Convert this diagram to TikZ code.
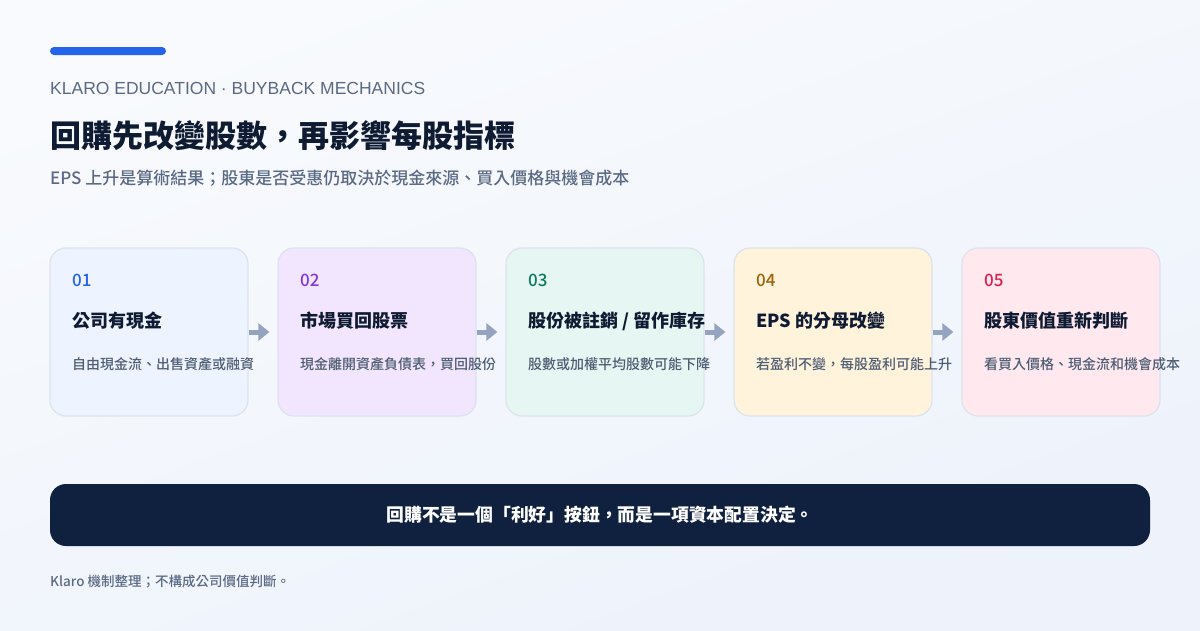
\documentclass[tikz,border=0pt]{standalone}
\usepackage{fontspec}
\setmainfont{Noto Sans CJK TC}
\newfontfamily\mediumfont{Noto Sans CJK TC Medium}
\newfontfamily\latinfont{Liberation Sans}
\usetikzlibrary{arrows.meta}

\definecolor{bgtop}{HTML}{F8FAFD}
\definecolor{bgbot}{HTML}{EDF2FB}
\definecolor{accent}{HTML}{2563EB}
\definecolor{ink}{HTML}{0F1B33}
\definecolor{slate}{HTML}{5A6A84}
\definecolor{muted}{HTML}{4E5D73}
\definecolor{edge}{HTML}{DCE3EE}
\definecolor{arrowc}{HTML}{93A3C0}
\definecolor{navy}{HTML}{10213F}
\definecolor{fillA}{HTML}{EEF4FF}
\definecolor{fillB}{HTML}{F1E6FD}
\definecolor{fillC}{HTML}{E6F6F2}
\definecolor{fillD}{HTML}{FFF3DC}
\definecolor{fillE}{HTML}{FFE9EF}
\definecolor{numA}{HTML}{2563EB}
\definecolor{numB}{HTML}{7E3AE0}
\definecolor{numC}{HTML}{0E7A5C}
\definecolor{numD}{HTML}{A0620A}
\definecolor{numE}{HTML}{D6214F}

\tikzset{
    card/.style={draw=edge, line width=1.2pt, rounded corners=16pt,
        minimum width=198pt, minimum height=168pt, inner sep=0pt},
    stepnum/.style={anchor=west, inner sep=0pt, font=\mediumfont\fontsize{17}{19}\selectfont},
    steptitle/.style={anchor=west, inner sep=0pt, text=ink, font=\fontsize{18}{21}\selectfont\bfseries},
    stepdesc/.style={anchor=west, inner sep=0pt, text=muted, font=\mediumfont\fontsize{14}{16}\selectfont},
    flow/.style={arrowc, line width=5pt, shorten >=8pt,
        -{Triangle[length=11pt, width=17pt]}}
}

\begin{document}
\begin{tikzpicture}[x=1pt, y=-1pt]

    % 1. 背景
    \shade[shading=axis, top color=bgtop, bottom color=bgbot, shading angle=20]
        (0,0) rectangle (1200,630);
    \useasboundingbox (0,0) rectangle (1200,630);

    % 2. 標題區
    \fill[accent, rounded corners=4pt] (50,47) rectangle (166,55);
    \node[anchor=west, inner sep=0pt, text=slate, font=\latinfont\fontsize{17.5}{20}\selectfont]
        (kicker) at (50,88) {KLARO EDUCATION · BUYBACK MECHANICS};
    \node[anchor=west, inner sep=0pt, text=ink, font=\fontsize{31}{36}\selectfont\bfseries]
        (title) at (50,136) {回購先改變股數，再影響每股指標};
    \node[anchor=west, inner sep=0pt, text=slate, font=\mediumfont\fontsize{17}{20}\selectfont]
        (subtitle) at (50,178) {EPS 上升是算術結果；股東是否受惠仍取決於現金來源、買入價格與機會成本};

    % 3. 五個步驟卡片
    \node[card, fill=fillA] (c1) at (149,332) {};
    \node[card, fill=fillB] (c2) at (377,332) {};
    \node[card, fill=fillC] (c3) at (605,332) {};
    \node[card, fill=fillD] (c4) at (833,332) {};
    \node[card, fill=fillE] (c5) at (1061,332) {};

    % 4. 卡片之間的箭頭
    \draw[flow] (c1.east) -- (c2.west);
    \draw[flow] (c2.east) -- (c3.west);
    \draw[flow] (c3.east) -- (c4.west);
    \draw[flow] (c4.east) -- (c5.west);

    % 5. 卡片文字
    \node[stepnum, text=numA] (n1) at (72,280) {01};
    \node[steptitle] (t1) at (72,321) {公司有現金};
    \node[stepdesc] (d1) at (72,364) {自由現金流、出售資產或融資};

    \node[stepnum, text=numB] (n2) at (300,280) {02};
    \node[steptitle] (t2) at (300,321) {市場買回股票};
    \node[stepdesc] (d2) at (300,364) {現金離開資產負債表，買回股份};

    \node[stepnum, text=numC] (n3) at (528,280) {03};
    \node[steptitle] (t3) at (528,321) {股份被註銷 / 留作庫存};
    \node[stepdesc] (d3) at (528,364) {股數或加權平均股數可能下降};

    \node[stepnum, text=numD] (n4) at (756,280) {04};
    \node[steptitle] (t4) at (756,321) {EPS 的分母改變};
    \node[stepdesc] (d4) at (756,364) {若盈利不變，每股盈利可能上升};

    \node[stepnum, text=numE] (n5) at (984,280) {05};
    \node[steptitle] (t5) at (984,321) {股東價值重新判斷};
    \node[stepdesc] (d5) at (984,364) {看買入價格、現金流和機會成本};

    % 6. 結論橫條
    \node[fill=navy, rounded corners=16pt, minimum width=1100pt, minimum height=62pt,
        inner sep=0pt, text=white, font=\fontsize{17.8}{20}\selectfont\bfseries]
        (takeaway) at (600,515) {回購不是一個「利好」按鈕，而是一項資本配置決定。};

    % 7. 註腳
    \node[anchor=west, inner sep=0pt, text=slate, font=\mediumfont\fontsize{13.5}{15}\selectfont]
        (footer) at (50,582) {Klaro 機制整理；不構成公司價值判斷。};

\end{tikzpicture}
\end{document}
